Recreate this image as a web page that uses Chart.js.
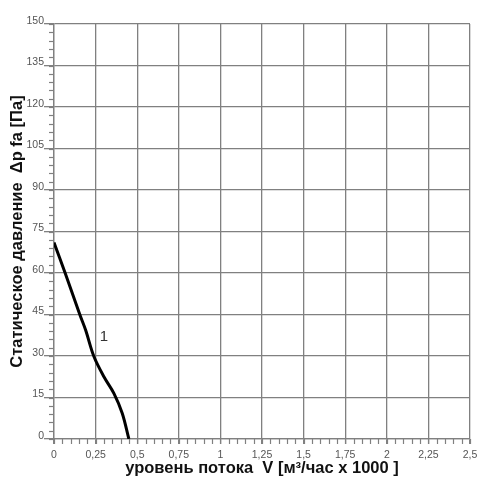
<!DOCTYPE html>
<html><head><meta charset="utf-8">
<script src="https://cdn.jsdelivr.net/npm/chart.js@4"></script>
<style>html,body{margin:0;padding:0;background:#fff}#wrap{width:500px;height:486px}</style>
</head><body><div id="wrap"><canvas id="c" width="500" height="486"></canvas></div>
<script>
const flow = [0, 0.067, 0.155, 0.19, 0.24, 0.30, 0.36, 0.41, 0.45];
const pressure = [71, 60, 45, 39.4, 29.8, 22.5, 16.5, 9.3, 0];
const curveLabel = {text: '1', x: 0.30, y: 37};
const xTitle = 'уровень потока  V [м³/час x 1000 ]';
const yTitle = 'Статическое давление  Δp fa [Па]';

const minorTicks = {
  id: 'minorTicks',
  afterDatasetsDraw(chart) {
    const ctx = chart.ctx, xs = chart.scales.x, ys = chart.scales.y;
    ctx.save();
    ctx.strokeStyle = '#808080'; ctx.lineWidth = 1.2;
    for (let v = 0; v <= 150.001; v += 3) {
      const py = Math.round(ys.getPixelForValue(v)) + 0.5;
      ctx.beginPath(); ctx.moveTo(xs.left - 5, py); ctx.lineTo(xs.left, py); ctx.stroke();
    }
    for (let v = 0; v <= 2.5001; v += 0.05) {
      const px = Math.round(xs.getPixelForValue(v)) + 0.5;
      ctx.beginPath(); ctx.moveTo(px, ys.bottom); ctx.lineTo(px, ys.bottom + 5); ctx.stroke();
    }
    ctx.fillStyle = '#333'; ctx.font = '15px "Liberation Sans", Arial, sans-serif';
    ctx.textAlign = 'center'; ctx.textBaseline = 'middle';
    ctx.fillText(curveLabel.text, xs.getPixelForValue(curveLabel.x), ys.getPixelForValue(curveLabel.y));
    ctx.restore();
  }
};

new Chart(document.getElementById('c'), {
  type: 'scatter',
  data: { datasets: [{
    data: flow.map((f, i) => ({x: f, y: pressure[i]})),
    showLine: true, borderColor: '#000', borderWidth: 3, pointRadius: 0,
    tension: 0.35, fill: false
  }]},
  options: {
    responsive: false, animation: false, devicePixelRatio: 1,
    layout: { padding: { top: 24, right: 30, left: 0, bottom: 0 } },
    plugins: { legend: { display: false }, tooltip: { enabled: false } },
    scales: {
      x: {
        type: 'linear', min: 0, max: 2.5,
        afterFit(s) { s.height = 47; },
        grid: { color: '#808080', lineWidth: 1.3, tickLength: 5, drawTicks: true },
        border: { color: '#808080', width: 1.3 },
        ticks: { stepSize: 0.25, padding: 5, color: '#555', maxRotation: 0,
          font: { family: '"Liberation Sans", Arial, sans-serif', size: 10.5 },
          callback: v => String(Math.round(v * 100) / 100).replace('.', ',') },
        title: { display: true, text: xTitle, color: '#111',
          font: { family: '"Liberation Sans", Arial, sans-serif', size: 16.5, weight: 'bold' },
          padding: { top: 0, bottom: 8 } }
      },
      y: {
        type: 'linear', min: 0, max: 150,
        afterFit(s) { s.width = 54; },
        grid: { color: '#808080', lineWidth: 1.3, tickLength: 10 },
        border: { color: '#808080', width: 1.3 },
        ticks: { stepSize: 15, padding: 0, labelOffset: -3, color: '#555',
          font: { family: '"Liberation Sans", Arial, sans-serif', size: 10.5 } },
        title: { display: true, text: yTitle, color: '#111',
          font: { family: '"Liberation Sans", Arial, sans-serif', size: 16.5, weight: 'bold' },
          padding: { top: 8, bottom: 0 } }
      }
    }
  },
  plugins: [minorTicks]
});
</script></body></html>
